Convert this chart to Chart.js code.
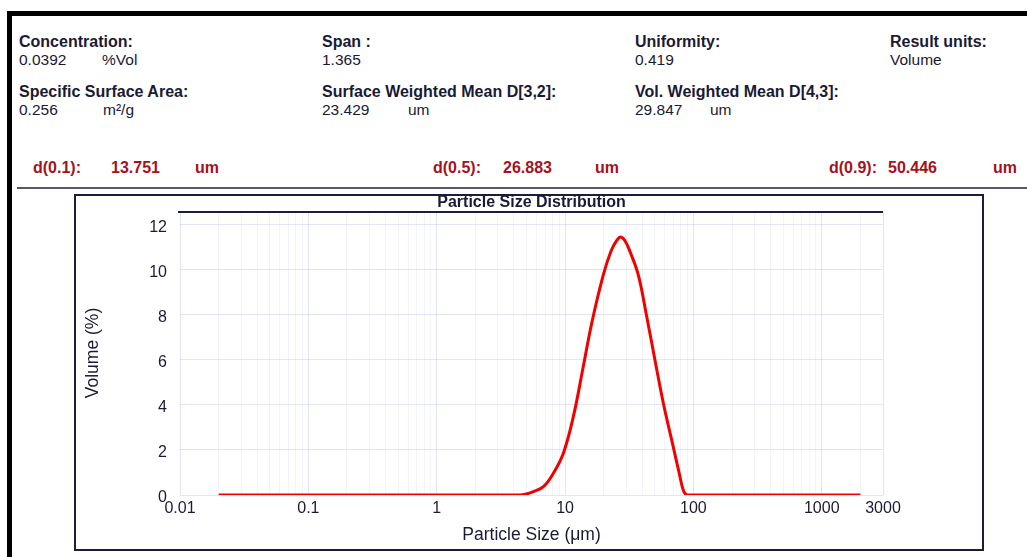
<!DOCTYPE html>
<html><head><meta charset="utf-8">
<script src="https://cdn.jsdelivr.net/npm/chart.js@4/dist/chart.umd.min.js"></script>
<style>
html,body{margin:0;padding:0;background:#fff;}
body{width:1027px;height:557px;position:relative;overflow:hidden;font-family:"Liberation Sans",Arial,sans-serif;}
.t{position:absolute;white-space:nowrap;line-height:1;color:#1a1a35;}
.h{font-weight:bold;font-size:16px;}
.v{font-size:15.5px;}
.r{font-weight:bold;font-size:16px;color:#a5121b;}
.clip{overflow:hidden;height:12.3px;}
#frameTop{position:absolute;left:7px;top:11px;width:1020px;height:5px;background:#000;}
#frameLeft{position:absolute;left:7px;top:11px;width:5px;height:546px;background:#000;}
#sep{position:absolute;left:17px;top:187px;width:1010px;height:2px;background:#55586a;}
#box{position:absolute;left:74px;top:194px;width:910px;height:357px;border:2px solid #1c1c3c;box-sizing:border-box;}
#c{position:absolute;left:0;top:0;}
</style>
</head>
<body>
<div id="frameTop"></div><div id="frameLeft"></div>
<div id="sep"></div>
<div id="box"></div>

<div class="t h" style="left:19px;top:33.5px">Concentration:</div>
<div class="t v clip" style="left:19px;top:52.3px">0.0392</div>
<div class="t v clip" style="left:102px;top:52.3px">%Vol</div>
<div class="t h" style="left:322px;top:33.5px">Span :</div>
<div class="t v clip" style="left:322px;top:52.3px">1.365</div>
<div class="t h" style="left:635px;top:33.5px">Uniformity:</div>
<div class="t v clip" style="left:635px;top:52.3px">0.419</div>
<div class="t h" style="left:890px;top:33.5px">Result units:</div>
<div class="t v clip" style="left:890px;top:52.3px">Volume</div>

<div class="t h" style="left:19px;top:84.2px">Specific Surface Area:</div>
<div class="t v" style="left:19px;top:102.3px">0.256</div>
<div class="t v" style="left:103px;top:102.3px">m²/g</div>
<div class="t h" style="left:322px;top:84.2px">Surface Weighted Mean D[3,2]:</div>
<div class="t v clip" style="left:322px;top:102.3px">23.429</div>
<div class="t v clip" style="left:408px;top:102.3px">um</div>
<div class="t h" style="left:635px;top:84.2px">Vol. Weighted Mean D[4,3]:</div>
<div class="t v clip" style="left:635px;top:102.3px">29.847</div>
<div class="t v clip" style="left:710px;top:102.3px">um</div>

<div class="t r" style="left:33px;top:159.5px">d(0.1):</div>
<div class="t r" style="left:111px;top:159.5px">13.751</div>
<div class="t r" style="left:195px;top:159.5px">um</div>
<div class="t r" style="left:433px;top:159.5px">d(0.5):</div>
<div class="t r" style="left:503px;top:159.5px">26.883</div>
<div class="t r" style="left:595px;top:159.5px">um</div>
<div class="t r" style="left:829px;top:159.5px">d(0.9):</div>
<div class="t r" style="left:888px;top:159.5px">50.446</div>
<div class="t r" style="left:993px;top:159.5px">um</div>

<canvas id="c" width="1027" height="557"></canvas>
<script>
// ---- data ----
const particleSizes = [0.02, 0.05, 0.1, 0.2, 0.5, 1, 2, 4.47, 4.89, 5.66, 6.78, 8.11, 9.70, 11.61, 13.87, 16.14, 19.86, 22.7, 25.2, 27.1, 29.3, 32.1, 37.2, 43.23, 50.12, 58.2, 69.6, 77.5, 83.3, 88.5, 95, 200, 500, 1000, 2000];
const volumePercent = [0, 0, 0, 0, 0, 0, 0, 0, 0.03, 0.15, 0.37, 0.97, 1.86, 3.49, 5.71, 7.64, 9.78, 10.81, 11.3, 11.47, 11.3, 10.81, 9.78, 7.94, 6.01, 4.1, 2.15, 0.97, 0.22, 0, 0, 0, 0, 0, 0];
const xTickValues = [0.01, 0.1, 1, 10, 100, 1000, 3000];
const xTickLabels = ['0.01', '0.1', '1', '10', '100', '1000', '3000'];
const yTickValues = [0, 2, 4, 6, 8, 10, 12];
const chartTitle = 'Particle Size Distribution';
const xTitle = 'Particle Size (μm)';
const yTitle = 'Volume (%)';

// grid positions of a log axis (1..9 per decade)
const xGridValues = [];
for (let e = -2; e <= 3; e++) {
  for (let m = 1; m <= 9; m++) {
    const v = +(m * Math.pow(10, e)).toPrecision(3);
    if (v <= 3000) xGridValues.push(v);
  }
}
function labelIndex(v) {
  return xTickValues.findIndex(t => Math.abs(Math.log10(t) - Math.log10(v)) < 1e-6);
}

const ink = '#1a1a35';
const fam = '"Liberation Sans", Arial, sans-serif';

const topLine = {
  id: 'topLine',
  beforeDatasetsDraw(chart) {
    const {ctx, chartArea: a} = chart;
    ctx.save();
    ctx.strokeStyle = '#1c1c3c';
    ctx.lineWidth = 2;
    ctx.beginPath();
    ctx.moveTo(a.left - 2, a.top + 1);
    ctx.lineTo(a.right, a.top + 1);
    ctx.stroke();
    ctx.restore();
  }
};

new Chart(document.getElementById('c'), {
  type: 'line',
  data: {
    datasets: [{
      data: particleSizes.map((s, i) => ({x: s, y: volumePercent[i]})),
      borderColor: '#f20000',
      borderWidth: 3,
      pointRadius: 0,
      tension: 0.4,
      fill: false
    }]
  },
  options: {
    responsive: false,
    animation: false,
    devicePixelRatio: 1,
    layout: {padding: {left: 75, right: 144, top: 195, bottom: 11}},
    plugins: {
      legend: {display: false},
      tooltip: {enabled: false},
      title: {
        display: true, text: chartTitle, fullSize: false, color: ink,
        font: {family: fam, size: 16, weight: 'bold', lineHeight: 1},
        padding: 0
      }
    },
    scales: {
      x: {
        type: 'logarithmic', min: 0.01, max: 3000,
        afterBuildTicks: s => { s.ticks = xGridValues.map(v => ({value: v})); },
        afterFit: s => { s.height = 51; },
        ticks: {
          autoSkip: false, maxRotation: 0, minRotation: 0, padding: 4, color: ink,
          font: {family: fam, size: 16},
          callback: v => { const i = labelIndex(v); return i >= 0 ? xTickLabels[i] : ''; }
        },
        grid: {
          drawTicks: false, lineWidth: 1,
          color: c => labelIndex(c.tick.value) >= 0 ? 'rgba(185,190,228,0.4)' : 'rgba(200,205,235,0.22)'
        },
        border: {display: false},
        title: {display: true, text: xTitle, color: ink, font: {family: fam, size: 17.5}, padding: {top: 9, bottom: 0}}
      },
      y: {
        min: 0, max: 12.62,
        afterBuildTicks: s => { s.ticks = yTickValues.map(v => ({value: v})); },
        afterFit: s => { s.width = 105; },
        ticks: {padding: 13, labelOffset: 3, color: ink, font: {family: fam, size: 16}},
        grid: {drawTicks: false, color: 'rgba(185,190,228,0.4)', lineWidth: 1},
        border: {display: false},
        title: {display: true, text: yTitle, color: ink, font: {family: fam, size: 17.5}, padding: {top: 7.5, bottom: 0}}
      }
    }
  },
  plugins: [topLine]
});
</script>
</body></html>
